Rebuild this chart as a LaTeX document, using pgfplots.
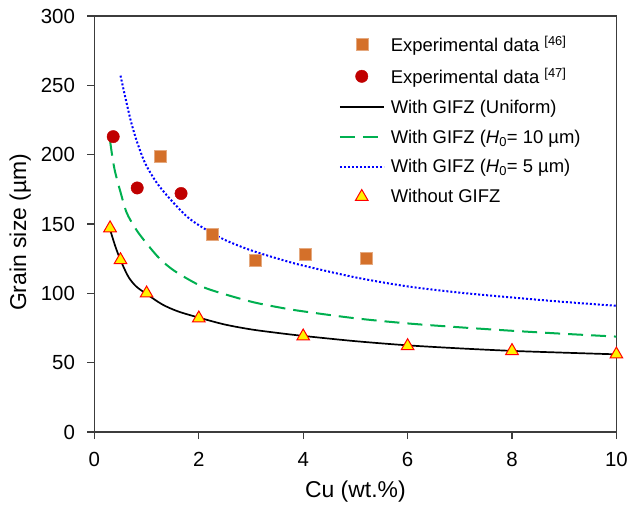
\documentclass[border=0pt]{standalone}
\usepackage{fontspec}
\setmainfont{Liberation Sans}
\usepackage{pgfplots}
\pgfplotsset{compat=1.18}
\definecolor{sqorange}{RGB}{212,112,42}
\definecolor{cred}{RGB}{192,0,0}
\definecolor{lgreen}{RGB}{0,176,80}
\definecolor{lblue}{RGB}{0,0,255}
\definecolor{axgray}{RGB}{60,60,60}
\begin{document}
\begin{tikzpicture}
\begin{axis}[
  scale only axis,
  width=522bp, height=416bp,
  xmin=0, xmax=10, ymin=0, ymax=300,
  xtick={0,2,4,6,8,10}, ytick={0,50,100,150,200,250,300},
  tick align=outside, xtick pos=left, ytick pos=left,
  major tick length=7bp,
  axis line style={axgray, line width=1.1bp},
  every tick/.style={axgray, line width=1.1bp},
  /pgf/number format/assume math mode=true,
  ticklabel style={font=\fontsize{20.5}{24}\selectfont},
  yticklabel style={xshift=-9bp},
  xticklabel style={yshift=-10bp},
  xlabel={Cu (wt.\%)},
  ylabel={Grain size (µm)},
  label style={font=\fontsize{23}{27}\selectfont},
  xlabel style={at={(axis description cs:0.5,-0.142)}, anchor=center},
  ylabel style={at={(axis description cs:-0.142,0.48)}, anchor=center},
  legend style={draw=none, fill=none, at={(axis description cs:0.462,0.958)}, anchor=north west,
    font=\fontsize{18.5}{22}\selectfont, row sep=15bp,
    nodes={inner sep=0pt}},
  legend cell align=left,
  /tikz/every odd column/.append style={column sep=6bp},
  legend image code/.code={\draw[mark repeat=2,mark phase=2] plot coordinates {(0bp,0bp) (22bp,0bp) (44bp,0bp)};},
]
\addplot[only marks, mark=square*, mark size=6bp, mark options={fill=sqorange, draw=sqorange!60}] coordinates {
(1.26,199) (2.25,143) (3.09,124) (4.03,128) (5.2,125)};
\addlegendentry{Experimental data \textsuperscript{[46]}}
\addplot[only marks, mark=*, mark size=6.2bp, mark options={fill=cred, draw=cred}] coordinates {
(0.36,213) (0.82,176) (1.66,172)};
\addlegendentry{Experimental data \textsuperscript{[47]}}
\addplot[black, line width=1.7bp, smooth] coordinates {
(0.3,146) (0.4,134) (0.5,124) (0.65,112) (0.8,105) (1,99.5) (1.3,92) (1.6,87) (2,82.5) (2.5,77.5) (3,74) (3.5,71.5) (4,69.3) (5,65.5) (6,62.5) (7,60.3) (8,58.5) (9,57.2) (10,56)};
\addlegendentry{With GIFZ (Uniform)}
\addplot[lgreen, line width=2bp, dash pattern=on 15bp off 8bp, smooth] coordinates {
(0.3,210) (0.35,197) (0.4,187) (0.5,173) (0.62,158) (0.8,146) (1,136) (1.25,125) (1.54,116) (2,106) (2.31,101.5) (3,94) (3.56,89.7) (4,87) (5,82) (6,78.3) (7,75.5) (8,73) (9,70.8) (10,68.8)};
\addlegendentry{With GIFZ (\textit{H}\textsubscript{0}= 10 µm)}
\addplot[lblue, line width=2bp, dash pattern=on 2bp off 2bp, smooth] coordinates {
(0.5,257) (0.6,240) (0.7,224) (0.81,210) (0.97,194) (1.19,180) (1.45,168) (1.8,154.5) (2.18,145) (2.53,138) (3,131) (3.56,124.5) (4,120) (5,111.5) (6,105) (7,100.5) (8,97) (9,93.8) (10,91)};
\addlegendentry{With GIFZ (\textit{H}\textsubscript{0}= 5 µm)}
\addplot[only marks, mark=triangle*, mark size=7.3bp, mark options={fill=yellow, draw=red, line width=1bp}] coordinates {
(0.3,147) (0.5,124) (1,100) (2,82) (4,69) (6,62) (8,58.5) (10,56)};
\addlegendentry{Without GIFZ}
\end{axis}
\pgfresetboundingbox
\path (-94.4bp,-78bp) rectangle (535.6bp,432bp);
\end{tikzpicture}
\end{document}
